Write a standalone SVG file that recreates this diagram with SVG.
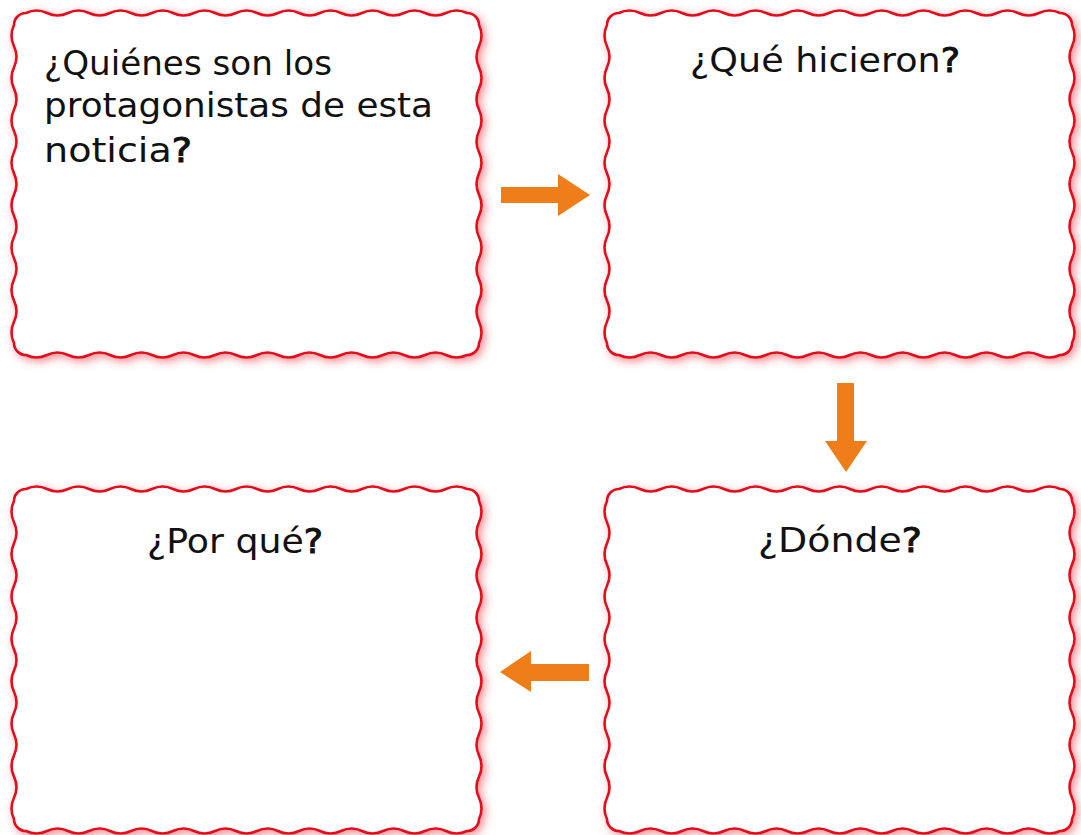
<svg xmlns="http://www.w3.org/2000/svg" width="1081" height="835" viewBox="0 0 1081 835">
<style>
.box{fill:#ffffff;stroke:#e30b1c;stroke-width:2.6;filter:url(#glow)}
.lbl{font-family:"DejaVu Sans","Liberation Sans",sans-serif;font-size:33px;fill:#111111}
.q{stroke:#111111;stroke-width:1}
.arr{fill:#ef7d1a}
</style>
<defs>
<filter id="glow" x="-6%" y="-6%" width="116%" height="118%">
<feGaussianBlur in="SourceAlpha" stdDeviation="4" result="b"/>
<feOffset in="b" dx="3" dy="3" result="o"/>
<feFlood flood-color="#e8343f" flood-opacity="0.55"/>
<feComposite in2="o" operator="in" result="s"/>
<feMerge><feMergeNode in="s"/><feMergeNode in="SourceGraphic"/></feMerge>
</filter>
<path id="wavy" d="M12,0 q10.5,-5 21,0 t21,0 t21,0 t21,0 t21,0 t21,0 t21,0 t21,0 t21,0 t21,0 t21,0 t21,0 t21,0 t21,0 t21,0 t21,0 t21,0 t21,0 t21,0 t21,0 t21,0 a12,12 0 0 1 12,12 q5,10.6 0,21.2 t0,21.2 t0,21.2 t0,21.2 t0,21.2 t0,21.2 t0,21.2 t0,21.2 t0,21.2 t0,21.2 t0,21.2 t0,21.2 t0,21.2 t0,21.2 t0,21.2 a12,12 0 0 1 -12,12 q-10.5,5 -21,0 t-21,0 t-21,0 t-21,0 t-21,0 t-21,0 t-21,0 t-21,0 t-21,0 t-21,0 t-21,0 t-21,0 t-21,0 t-21,0 t-21,0 t-21,0 t-21,0 t-21,0 t-21,0 t-21,0 t-21,0 a12,12 0 0 1 -12,-12 q-5,-10.6 0,-21.2 t0,-21.2 t0,-21.2 t0,-21.2 t0,-21.2 t0,-21.2 t0,-21.2 t0,-21.2 t0,-21.2 t0,-21.2 t0,-21.2 t0,-21.2 t0,-21.2 t0,-21.2 t0,-21.2 a12,12 0 0 1 12,-12 Z"/>
</defs>
<rect width="1081" height="835" fill="#ffffff"/>
<g id="node-protagonistas">
<use href="#wavy" class="box" transform="translate(14,13)"/>
<text class="lbl" x="44" y="75" textLength="288" lengthAdjust="spacingAndGlyphs">¿Quiénes son los</text>
<text class="lbl" x="44" y="117" textLength="389" lengthAdjust="spacingAndGlyphs">protagonistas de esta</text>
<text class="lbl" x="44" y="162" textLength="148" lengthAdjust="spacingAndGlyphs">noticia<tspan class="q">?</tspan></text>
</g>
<g id="node-que-hicieron">
<use href="#wavy" class="box" transform="translate(607,13)"/>
<text class="lbl" x="690" y="72" textLength="270" lengthAdjust="spacingAndGlyphs">¿Qué hicieron<tspan class="q">?</tspan></text>
</g>
<g id="node-por-que">
<use href="#wavy" class="box" transform="translate(14,489)"/>
<text class="lbl" x="147" y="553" textLength="176" lengthAdjust="spacingAndGlyphs">¿Por qué<tspan class="q">?</tspan></text>
</g>
<g id="node-donde">
<use href="#wavy" class="box" transform="translate(607,489)"/>
<text class="lbl" x="758" y="552" textLength="164" lengthAdjust="spacingAndGlyphs">¿Dónde<tspan class="q">?</tspan></text>
</g>
<g id="connectors">
<polygon class="arr" points="501,187 558,187 558,174 590,195 558,216 558,203 501,203"/>
<polygon class="arr" points="837,383 854,383 854,441 867,441 846,472 825,441 837,441"/>
<polygon class="arr" points="589,664 531,664 531,651 500,672 531,692 531,681 589,681"/>
</g>
</svg>
